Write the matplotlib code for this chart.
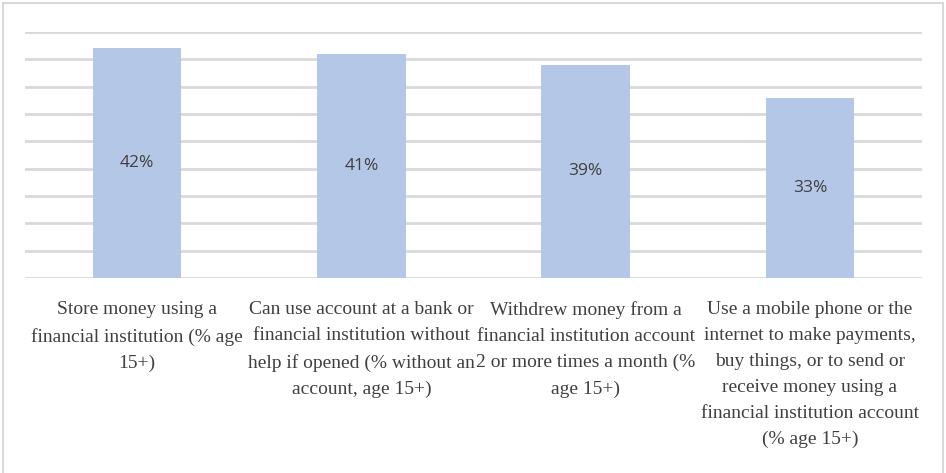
import matplotlib
matplotlib.use("Agg")
import matplotlib.pyplot as plt
from matplotlib.patches import Rectangle

categories = [
    "Store money using a\nfinancial institution (% age\n15+)",
    "Can use account at a bank or\nfinancial institution without\nhelp if opened (% without an\naccount, age 15+)",
    "Withdrew money from a\nfinancial institution account\n2 or more times a month (%\nage 15+)",
    "Use a mobile phone or the\ninternet to make payments,\nbuy things, or to send or\nreceive money using a\nfinancial institution account\n(% age 15+)",
]
values = [42, 41, 39, 33]
value_labels = ["42%", "41%", "39%", "33%"]

fig = plt.figure(figsize=(9.46, 4.73), dpi=100)
fig.patch.set_facecolor("white")

# light outer frame
fig.patches.append(Rectangle((3 / 946, -0.01), 940 / 946, 1 - 3 / 473 + 0.01,
                             transform=fig.transFigure, fill=False,
                             edgecolor="#D9D9D9", linewidth=1.5))

ax = fig.add_axes([25 / 946, 1 - 278 / 473, 897 / 946, 246 / 473])
x = list(range(len(values)))
bars = ax.bar(x, values, width=0.395, color="#B4C7E7", zorder=2)

ax.set_xlim(-0.5, len(values) - 0.5)
ax.set_ylim(0, 45)
ax.set_yticks(range(0, 46, 5))
ax.yaxis.grid(True, color="#D9D9D9", linewidth=2)
ax.set_axisbelow(True)
ax.tick_params(left=False, bottom=False, labelleft=False, labelbottom=False)
for s in ax.spines.values():
    s.set_visible(False)

for xi, v, lab in zip(x, values, value_labels):
    ax.text(xi, v / 2, lab, ha="center", va="center", fontsize=12.5,
            color="#404040", family="Open Sans")

for xi, cat in zip(x, categories):
    ax.text(xi, -0.095, cat, transform=ax.get_xaxis_transform(),
            ha="center", va="top", fontsize=14, color="#404040",
            family="Liberation Serif", linespacing=1.68)

fig.savefig("out.png", dpi=100, facecolor="white")
